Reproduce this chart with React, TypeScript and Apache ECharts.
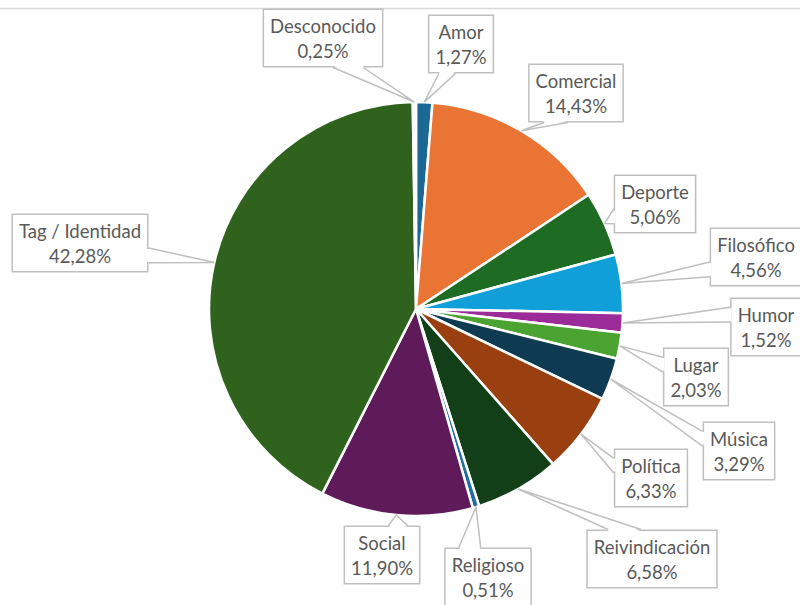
import React, { useEffect, useRef } from "react";
import * as echarts from "echarts";

const categories = [
  "Amor",
  "Comercial",
  "Deporte",
  "Filosófico",
  "Humor",
  "Lugar",
  "Música",
  "Política",
  "Reivindicación",
  "Religioso",
  "Social",
  "Tag / Identidad",
  "Desconocido",
];

const percentages = [1.27, 14.43, 5.06, 4.56, 1.52, 2.03, 3.29, 6.33, 6.58, 0.51, 11.9, 42.28, 0.25];

const colors = [
  "#1c6894",
  "#ea7434",
  "#1e6b24",
  "#109fd8",
  "#9a2b98",
  "#4ba432",
  "#0f3b52",
  "#993f10",
  "#123f17",
  "#1f6e9c",
  "#5f1a5a",
  "#2f621d",
  "#ffffff",
];

// label box centres (layout only)
const labelCenters: [number, number][] = [
  [461, 44],
  [576, 93],
  [655, 204],
  [756, 257],
  [766, 327],
  [696, 377],
  [739, 451],
  [651, 478],
  [652, 559],
  [488, 577],
  [382, 555],
  [80, 243],
  [323, 38],
];

const CENTER: [number, number] = [416, 309];
const RADIUS = 207;
const LINE_COLOR = "#bfbfbf";

const fmt = (v: number) => v.toFixed(2).replace(".", ",") + "%";

export default function App() {
  const ref = useRef<HTMLDivElement>(null);
  useEffect(() => {
    if (!ref.current) return;
    const chart = echarts.init(ref.current, null, { renderer: "svg" });
    const sizes: { w: number; h: number }[] = [];
    chart.setOption({
      animation: false,
      backgroundColor: "#ffffff",
      series: [
        {
          type: "pie",
          center: CENTER,
          radius: RADIUS,
          startAngle: 90,
          clockwise: true,
          avoidLabelOverlap: false,
          itemStyle: { borderColor: "#ffffff", borderWidth: 2.5 },
          data: categories.map((name, i) => ({
            name,
            value: percentages[i],
            itemStyle: { color: colors[i] },
          })),
          label: {
            show: true,
            position: "outside",
            formatter: (p: any) => `${p.name}\n${fmt(p.value)}`,
            fontFamily: "Lato, 'Open Sans', sans-serif",
            fontSize: 18.5,
            lineHeight: 25,
            color: "#595959",
            backgroundColor: "#ffffff",
            borderColor: LINE_COLOR,
            borderWidth: 1.5,
            padding: [4, 6, 2, 6],
            align: "center",
          },
          labelLine: { show: false },
          labelLayout: (params: any) => {
            const c = labelCenters[params.dataIndex];
            if (params.labelRect) {
              sizes[params.dataIndex] = {
                w: params.labelRect.width,
                h: params.labelRect.height,
              };
            }
            return {
              x: c[0],
              y: c[1],
              align: "center",
              verticalAlign: "middle",
            };
          },
          emphasis: { disabled: true },
        },
      ],
    });

    // build Excel-style callout wedges pointing at each slice's mid-angle
    const total = percentages.reduce((a, b) => a + b, 0);
    let cum = 0;
    const wedges: any[] = [];
    percentages.forEach((v, i) => {
      const mid = ((cum + v / 2) / total) * Math.PI * 2;
      cum += v;
      const ax = CENTER[0] + RADIUS * Math.sin(mid);
      const ay = CENTER[1] - RADIUS * Math.cos(mid);
      const s = sizes[i] || { w: 80, h: 56 };
      const [cx, cy] = labelCenters[i];
      const x0 = cx - s.w / 2;
      const y0 = cy - s.h / 2;
      const dx = ax - cx;
      const dy = ay - cy;
      let b1: number[], b2: number[], i1: number[], i2: number[];
      const inset = 1.6;
      if (Math.abs(dx) / (s.w / 2) > Math.abs(dy) / (s.h / 2)) {
        const f = dy > 0 ? [7 / 12, 10 / 12] : [2 / 12, 5 / 12];
        const ex = dx > 0 ? x0 + s.w : x0;
        const ix = dx > 0 ? ex - inset : ex + inset;
        b1 = [ex, y0 + s.h * f[0]];
        b2 = [ex, y0 + s.h * f[1]];
        i1 = [ix, b1[1] + 0.8];
        i2 = [ix, b2[1] - 0.8];
      } else {
        const f = dx > 0 ? [7 / 12, 10 / 12] : [2 / 12, 5 / 12];
        const ey = dy > 0 ? y0 + s.h : y0;
        const iy = dy > 0 ? ey - inset : ey + inset;
        b1 = [x0 + s.w * f[0], ey];
        b2 = [x0 + s.w * f[1], ey];
        i1 = [b1[0] + 0.8, iy];
        i2 = [b2[0] - 0.8, iy];
      }
      wedges.push({
        type: "polygon",
        z: 100,
        silent: true,
        shape: { points: [i1, [ax, ay], i2] },
        style: { fill: "#ffffff", stroke: null },
      });
      wedges.push({
        type: "polyline",
        z: 101,
        silent: true,
        shape: { points: [b1, [ax, ay], b2] },
        style: { stroke: LINE_COLOR, lineWidth: 1.5, fill: null },
      });
    });

    chart.setOption({
      graphic: [
        {
          type: "line",
          z: 0,
          silent: true,
          shape: { x1: 0, y1: 8.5, x2: 800, y2: 8.5 },
          style: { stroke: "#d9d9d9", lineWidth: 1.5 },
        },
        ...wedges,
      ],
    });
    return () => chart.dispose();
  }, []);
  return (
    <div
      ref={ref}
      style={{ position: "absolute", left: 0, top: 0, width: 800, height: 605 }}
    />
  );
}
